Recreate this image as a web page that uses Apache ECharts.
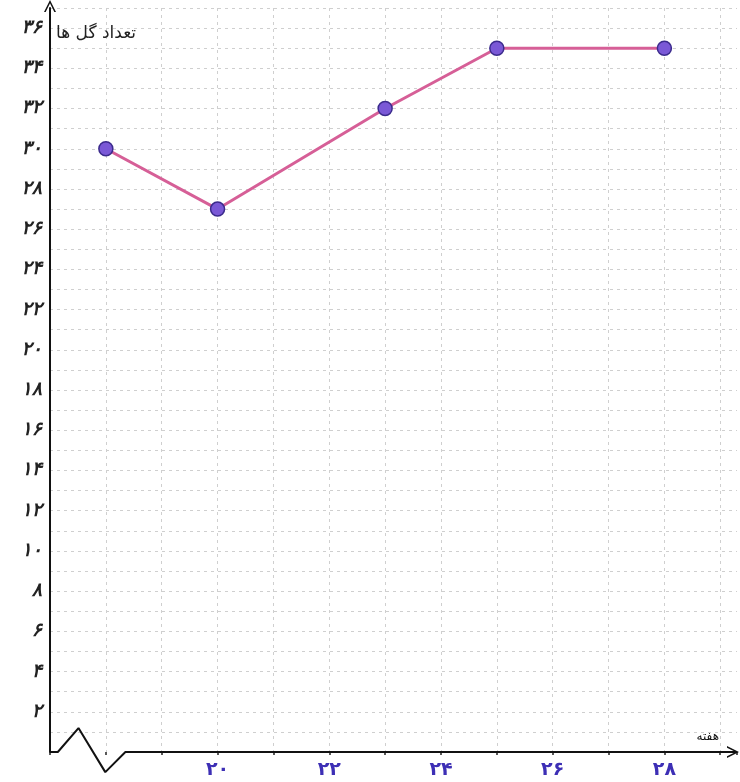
<!DOCTYPE html>
<html>
<head>
<meta charset="utf-8">
<script src="https://cdn.jsdelivr.net/npm/echarts@6/dist/echarts.min.js"></script>
<style>
  html, body { margin: 0; padding: 0; background: #ffffff; }
  #chart { width: 740px; height: 782px; }
</style>
</head>
<body>
<div id="chart"></div>
<script>
// Weeks and number of flowers
const weeks = [18, 20, 23, 25, 28];
const flowers = [30, 27, 32, 35, 35];

// Weeks that carry a label on the horizontal axis
const weekLabels = [20, 22, 24, 26, 28];
// Flower counts that carry a label on the vertical axis
const countLabels = [2, 4, 6, 8, 10, 12, 14, 16, 18, 20, 22, 24, 26, 28, 30, 32, 34, 36];

const yTitle = 'تعداد گل ها';
const xTitle = 'هفته';

// Horizontal axis drawn with a zigzag break near the origin (axis units)
const axisBreakX = [17, 17.14, 17.51, 17.99, 18.35, 29.3];
const axisBreakY = [0, 0, 1.19, -1.0, 0, 0];

const persianDigits = '۰۱۲۳۴۵۶۷۸۹';
function toPersian(n) {
  return String(n).replace(/\d/g, d => persianDigits[+d]);
}

const chevron = 'path://M0,10 L5,0 L10,10 L8.6,10 L5,2.8 L1.4,10 Z';
const gridLine = { show: true, lineStyle: { color: '#cfcfcf', type: [3, 4], width: 1 } };

const chart = echarts.init(document.getElementById('chart'), null, { renderer: 'canvas' });

const breakData = axisBreakX.map((x, i) => {
  const item = { value: [x, axisBreakY[i]] };
  if (i === axisBreakX.length - 1) {
    item.symbol = chevron;
    item.symbolSize = [12, 12];
    item.symbolRotate = -90;
    item.symbolOffset = [-4, 0];
  }
  return item;
});

chart.setOption({
  animation: false,
  backgroundColor: '#ffffff',
  grid: { left: 50, right: 2, top: 8, bottom: 30, containLabel: false },
  xAxis: {
    type: 'value',
    min: 17,
    max: 29.3,
    interval: 1,
    name: xTitle,
    nameLocation: 'end',
    nameGap: -18,
    nameTextStyle: {
      fontFamily: 'DejaVu Sans', fontSize: 12, color: '#111',
      align: 'right', verticalAlign: 'bottom', padding: [0, 0, 9, 0]
    },
    axisLine: { show: false },
    axisTick: { show: true, length: 3, inside: false, lineStyle: { color: '#222', width: 1.5 } },
    axisLabel: {
      margin: 9,
      fontFamily: 'DejaVu Sans',
      fontSize: 19,
      fontWeight: 'bold',
      color: '#3d2fb5',
      formatter: v => weekLabels.includes(v) ? toPersian(v) : ''
    },
    splitLine: Object.assign({ showMinLine: false, showMaxLine: false }, gridLine)
  },
  yAxis: {
    type: 'value',
    min: 0,
    max: 37,
    interval: 1,
    name: yTitle,
    nameLocation: 'end',
    nameGap: -26,
    nameTextStyle: {
      fontFamily: 'DejaVu Sans', fontSize: 17, color: '#222',
      align: 'left', verticalAlign: 'middle', padding: [0, 0, 0, 6]
    },
    axisLine: {
      show: true,
      symbol: ['none', chevron],
      symbolSize: [12, 12],
      symbolOffset: [0, 2],
      lineStyle: { color: '#111', width: 2 }
    },
    axisTick: { show: false },
    axisLabel: {
      margin: 8,
      fontFamily: 'DejaVu Sans',
      fontSize: 19,
      fontStyle: 'italic',
      fontWeight: 'bold',
      color: '#222',
      formatter: v => countLabels.includes(v) ? toPersian(v) : ''
    },
    splitLine: Object.assign({ showMinLine: false, showMaxLine: true }, gridLine)
  },
  series: [
    {
      name: 'axis',
      type: 'line',
      data: breakData,
      clip: false,
      silent: true,
      symbol: 'none',
      showSymbol: true,
      lineStyle: { color: '#111', width: 2 },
      itemStyle: { color: '#111' },
      z: 1
    },
    {
      name: yTitle,
      type: 'line',
      data: weeks.map((w, i) => [w, flowers[i]]),
      symbol: 'circle',
      symbolSize: 14,
      lineStyle: { color: '#d65f97', width: 3 },
      itemStyle: { color: '#7a58d6', borderColor: '#3b2b8c', borderWidth: 1.5 },
      z: 3
    }
  ]
});
</script>
</body>
</html>
